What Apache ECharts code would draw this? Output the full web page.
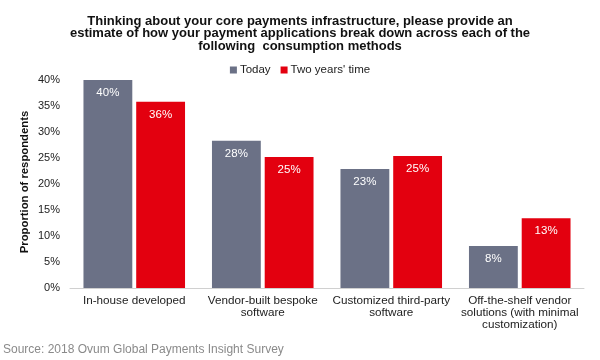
<!DOCTYPE html>
<html><head><meta charset="utf-8">
<script src="https://cdn.jsdelivr.net/npm/echarts@6/dist/echarts.min.js"></script>
<style>html,body{margin:0;padding:0;background:#fff}#c{width:600px;height:360px}</style>
</head><body><div id="c"></div>
<script>
const categories = ["In-house developed", "Vendor-built bespoke\nsoftware", "Customized third-party\nsoftware", "Off-the-shelf vendor\nsolutions (with minimal\ncustomization)"];
const today = [40, 28.3, 22.9, 8.1];
const twoYears = [35.8, 25.2, 25.4, 13.4];
const seriesNames = ["Today", "Two years' time"];
const yTicks = [0, 5, 10, 15, 20, 25, 30, 35, 40];

const chart = echarts.init(document.getElementById('c'));
const font = 'Liberation Sans, Arial, sans-serif';
const lbl = {show: true, position: 'insideTop', distance: 7, color: '#fff', fontSize: 11.5, fontFamily: font,
  formatter: p => Math.round(p.value) + '%'};
chart.setOption({
  animation: false,
  title: {
    text: "Thinking about your core payments infrastructure, please provide an\nestimate of how your payment applications break down across each of the\nfollowing  consumption methods",
    left: 'center', top: 10,
    textStyle: {fontFamily: font, fontSize: 13, fontWeight: 'bold', color: '#111', lineHeight: 12.5}
  },
  legend: {
    data: seriesNames, top: 59, left: 'center', itemWidth: 7, itemHeight: 7, itemGap: 10,
    icon: 'rect', textStyle: {fontFamily: font, fontSize: 11.5, color: '#222', padding: [0, 0, 0, -2]}
  },
  graphic: [
    {type: 'text', left: 3, top: 344, style: {text: 'Source: 2018 Ovum Global Payments Insight Survey', font: '12px ' + font, fill: '#8a8a8a'}},
    {type: 'text', x: 25, y: 182, rotation: Math.PI / 2,
      style: {text: 'Proportion of respondents', font: 'bold 11.3px ' + font, fill: '#111', align: 'center', verticalAlign: 'middle'}}
  ],
  grid: {left: 70, right: 16, top: 80, bottom: 72},
  xAxis: {
    type: 'category', data: categories,
    axisLine: {lineStyle: {color: '#d0d0d0'}}, axisTick: {show: false},
    axisLabel: {fontFamily: font, fontSize: 11.7, color: '#222', interval: 0, lineHeight: 12, margin: 7}
  },
  yAxis: {
    type: 'value', min: 0, max: 40, interval: 5,
    splitLine: {show: false}, axisLine: {show: false}, axisTick: {show: false},
    axisLabel: {fontFamily: font, fontSize: 11, color: '#222', margin: 10,
      formatter: v => yTicks.includes(v) ? v + '%' : ''}
  },
  series: [
    {name: seriesNames[0], type: 'bar', data: today, barWidth: '38%', barGap: '8%', itemStyle: {color: '#6B7186'}, label: lbl},
    {name: seriesNames[1], type: 'bar', data: twoYears, barWidth: '38%', itemStyle: {color: '#E3000F'}, label: lbl}
  ]
});
</script></body></html>
